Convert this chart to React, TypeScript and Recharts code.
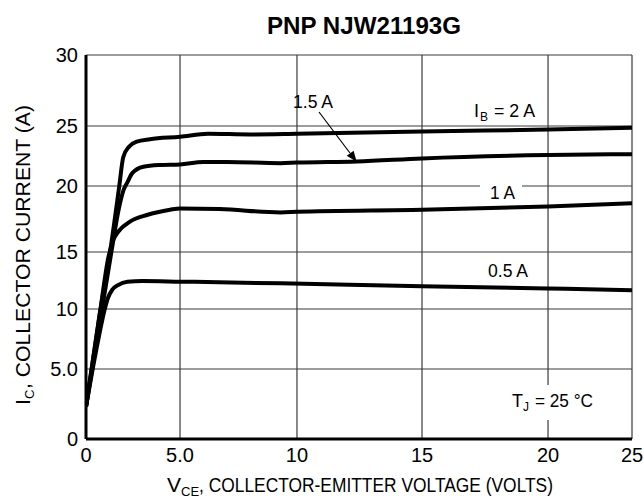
import { LineChart, Line, XAxis, YAxis, CartesianGrid } from "recharts";

// tick values and their printed labels
const xTicks = [0, 5, 10, 15, 20, 25];
const xTickLabels = ["0", "5.0", "10", "15", "20", "25"];
const yTicks = [0, 5, 10, 15, 20, 25, 30];
const yTickLabels = ["0", "5.0", "10", "15", "20", "25", "30"];

// IB = 2 A
const vce2A = [0, 0.7, 1.3, 1.77, 1.98, 2.3, 2.7, 3.4, 5, 6.2, 8, 10, 15, 20, 25];
const ic2A = [2.3, 9.3, 15.2, 20, 22.4, 23.3, 23.7, 23.9, 24.1, 24.35, 24.3, 24.35, 24.55, 24.7, 24.85];
// IB = 1.5 A
const vce15A = [0, 0.75, 1.35, 1.75, 2.0, 2.2, 2.45, 3.05, 3.95, 5, 6, 7, 9.3, 10, 12.4, 15, 20, 25];
const ic15A = [2.3, 9.0, 15, 18.3, 19.7, 20.3, 21.05, 21.6, 21.75, 21.8, 22.0, 22.0, 21.9, 21.95, 22.05, 22.3, 22.58, 22.65];
// IB = 1 A
const vce1A = [0, 0.7, 1.2, 1.45, 1.7, 2.34, 3.24, 4.47, 5, 6.7, 9.3, 10, 15, 20, 25];
const ic1A = [2.3, 9.2, 14.6, 15.9, 16.5, 17.3, 17.8, 18.2, 18.3, 18.25, 18.0, 18.05, 18.2, 18.45, 18.7];
// IB = 0.5 A
const vce05A = [0, 0.5, 1.0, 1.15, 1.4, 1.7, 2.2, 3.0, 5, 9.3, 15, 20, 25];
const ic05A = [2.3, 6.2, 10.0, 10.9, 11.7, 12.1, 12.4, 12.45, 12.4, 12.25, 12.0, 11.8, 11.65];

// the scanned grid is not evenly spaced, so each axis is calibrated piecewise
const xStops = [0, 0.1722, 0.3864, 0.6154, 0.8462, 1];
const yStops = [0, 0.1823, 0.3385, 0.487, 0.6589, 0.8151, 1];

function bentScale(knots: number[], stops: number[]): any {
  let dom = [knots[0], knots[knots.length - 1]];
  let rng = [0, 1];
  const frac = (v: number) => {
    let i = 0;
    while (i < knots.length - 2 && v > knots[i + 1]) i++;
    return stops[i] + ((v - knots[i]) / (knots[i + 1] - knots[i])) * (stops[i + 1] - stops[i]);
  };
  const s: any = (v: number) => rng[0] + frac(v) * (rng[1] - rng[0]);
  s.domain = (d?: number[]) => {
    if (d === undefined) return dom;
    dom = d.slice();
    return s;
  };
  s.range = (r?: number[]) => {
    if (r === undefined) return rng;
    rng = r.slice();
    return s;
  };
  s.invert = (p: number) => {
    const t = (p - rng[0]) / (rng[1] - rng[0]);
    let i = 0;
    while (i < stops.length - 2 && t > stops[i + 1]) i++;
    return knots[i] + ((t - stops[i]) / (stops[i + 1] - stops[i])) * (knots[i + 1] - knots[i]);
  };
  s.ticks = () => knots.slice();
  s.copy = () => bentScale(knots, stops).domain(dom.slice()).range(rng.slice());
  return s;
}

const toRows = (vs: number[], is: number[]) => vs.map((v, k) => ({ v, ic: is[k] }));

const FONT = "'Liberation Sans', Arial, sans-serif";
const FIT = "spacingAndGlyphs";

export default function App() {
  const series = [
    { name: "2 A", rows: toRows(vce2A, ic2A) },
    { name: "1.5 A", rows: toRows(vce15A, ic15A) },
    { name: "1 A", rows: toRows(vce1A, ic1A) },
    { name: "0.5 A", rows: toRows(vce05A, ic05A) },
  ];

  return (
    <div style={{ position: "absolute", left: 0, top: 0, width: 644, height: 499, background: "#fff" }}>
      <LineChart width={644} height={499} margin={{ top: 55, right: 12, bottom: 30, left: 46 }}>
        <CartesianGrid stroke="#3a3a3a" strokeWidth={1.2} horizontalValues={yTicks} verticalValues={xTicks} />
        <XAxis
          type="number"
          dataKey="v"
          domain={[0, 25]}
          scale={bentScale(xTicks, xStops)}
          ticks={xTicks}
          tickFormatter={(v: number) => xTickLabels[xTicks.indexOf(v)]}
          height={30}
          tickLine={false}
          tickSize={6}
          tickMargin={3}
          axisLine={{ stroke: "#000", strokeWidth: 3 }}
          tick={{ fill: "#000", fontSize: 20, fontFamily: FONT }}
          allowDataOverflow
        />
        <YAxis
          type="number"
          domain={[0, 30]}
          scale={bentScale(yTicks, yStops)}
          ticks={yTicks}
          tickFormatter={(v: number) => yTickLabels[yTicks.indexOf(v)]}
          width={40}
          tickLine={false}
          tickSize={6}
          tickMargin={2}
          axisLine={{ stroke: "#000", strokeWidth: 3 }}
          tick={{ fill: "#000", fontSize: 20, fontFamily: FONT }}
          allowDataOverflow
        />
        {series.map((s) => (
          <Line
            key={s.name}
            data={s.rows}
            dataKey="ic"
            type="monotone"
            stroke="#000"
            strokeWidth={4}
            dot={false}
            isAnimationActive={false}
          />
        ))}
      </LineChart>

      <svg
        width={644}
        height={499}
        style={{ position: "absolute", left: 0, top: 0, pointerEvents: "none" }}
        fontFamily={FONT}
        fill="#000"
      >
        <defs>
          <marker id="head" viewBox="0 0 10 10" refX="9" refY="5" markerWidth="9" markerHeight="9" orient="auto">
            <path d="M0,1 L10,5 L0,9 z" fill="#000" />
          </marker>
        </defs>
        <text x={267} y={34} fontSize={24} fontWeight="bold" textLength={194} lengthAdjust={FIT}>
          PNP NJW21193G
        </text>

        {/* x axis title */}
        <text x={167} y={492} fontSize={21}>V</text>
        <text x={181} y={496} fontSize={13}>CE</text>
        <text x={199} y={492} fontSize={21} textLength={354} lengthAdjust={FIT}>
          , COLLECTOR-EMITTER VOLTAGE (VOLTS)
        </text>

        {/* y axis title */}
        <g transform="rotate(-90 30 405)">
          <text x={30} y={405} fontSize={21}>I</text>
          <text x={36} y={409} fontSize={13}>C</text>
          <text x={46} y={405} fontSize={21} textLength={284} lengthAdjust={FIT}>
            , COLLECTOR CURRENT (A)
          </text>
        </g>

        <text x={293} y={108} fontSize={18} textLength={40} lengthAdjust={FIT}>1.5 A</text>
        <line x1={319} y1={112} x2={356} y2={161} stroke="#000" strokeWidth={1.2} markerEnd="url(#head)" />

        <text x={474} y={117} fontSize={18}>I</text>
        <text x={480} y={121} fontSize={12}>B</text>
        <text x={494} y={117} fontSize={18} textLength={41} lengthAdjust={FIT}>= 2 A</text>

        <rect x={480} y={180} width={42} height={21} fill="#fff" />
        <text x={490} y={199} fontSize={18} textLength={25} lengthAdjust={FIT}>1 A</text>

        <text x={488} y={277} fontSize={18} textLength={40} lengthAdjust={FIT}>0.5 A</text>

        <rect x={505} y={385} width={92} height={35} fill="#fff" />
        <text x={512} y={407} fontSize={18}>T</text>
        <text x={523} y={411} fontSize={12}>J</text>
        <text x={535} y={407} fontSize={18} textLength={58} lengthAdjust={FIT}>= 25 °C</text>
      </svg>
    </div>
  );
}
